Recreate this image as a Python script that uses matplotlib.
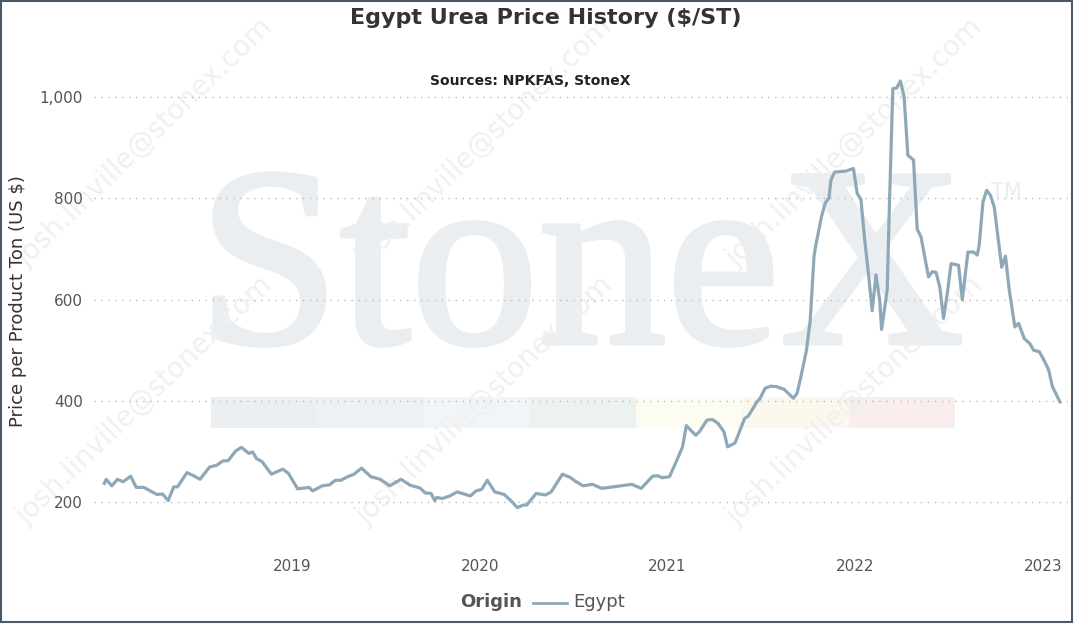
import matplotlib.pyplot as plt
import matplotlib.patheffects as pe
from matplotlib.patches import Rectangle
from matplotlib.lines import Line2D
from matplotlib.ticker import FuncFormatter

# weekly-ish readings, decimal year -> $/ST
dates = [2018.00, 2018.01, 2018.04, 2018.07, 2018.10, 2018.14, 2018.17, 2018.21, 2018.28, 2018.31,
         2018.34, 2018.37, 2018.39, 2018.44, 2018.47, 2018.51, 2018.56, 2018.60, 2018.63, 2018.66,
         2018.70, 2018.73, 2018.77, 2018.79, 2018.81, 2018.84, 2018.89, 2018.95, 2018.98, 2019.03,
         2019.09, 2019.11, 2019.16, 2019.20, 2019.23, 2019.26, 2019.29, 2019.33, 2019.37, 2019.42,
         2019.47, 2019.52, 2019.58, 2019.63, 2019.68, 2019.71, 2019.74, 2019.76, 2019.77, 2019.80,
         2019.84, 2019.88, 2019.95, 2019.98, 2020.01, 2020.04, 2020.08, 2020.13, 2020.17, 2020.20,
         2020.23, 2020.25, 2020.30, 2020.35, 2020.38, 2020.44, 2020.48, 2020.51, 2020.55, 2020.60,
         2020.65, 2020.75, 2020.81, 2020.86, 2020.92, 2020.95, 2020.97, 2021.01, 2021.05, 2021.08,
         2021.10, 2021.15, 2021.17, 2021.21, 2021.24, 2021.27, 2021.30, 2021.32, 2021.36, 2021.41,
         2021.43, 2021.48, 2021.49, 2021.52, 2021.55, 2021.58, 2021.62, 2021.67, 2021.69, 2021.71,
         2021.74, 2021.76, 2021.78, 2021.79, 2021.82, 2021.84, 2021.86, 2021.87, 2021.89, 2021.95,
         2021.99, 2022.01, 2022.03, 2022.05, 2022.07, 2022.09, 2022.11, 2022.13, 2022.14, 2022.17,
         2022.18, 2022.20, 2022.22, 2022.24, 2022.26, 2022.28, 2022.31, 2022.33, 2022.35, 2022.39,
         2022.41, 2022.43, 2022.45, 2022.47, 2022.49, 2022.51, 2022.55, 2022.57, 2022.60, 2022.63,
         2022.65, 2022.66, 2022.68, 2022.70, 2022.72, 2022.74, 2022.78, 2022.80, 2022.82, 2022.85,
         2022.87, 2022.90, 2022.93, 2022.95, 2022.98, 2023.00, 2023.03, 2023.05, 2023.09]
prices = [237, 245, 232, 245, 240, 251, 229, 229, 215, 216,
          203, 230, 230, 258, 253, 245, 269, 273, 281, 282,
          301, 308, 296, 299, 286, 280, 255, 265, 257, 226,
          229, 222, 232, 234, 243, 243, 249, 255, 267, 250,
          245, 232, 245, 233, 228, 218, 217, 203, 209, 207,
          212, 220, 212, 222, 225, 243, 220, 215, 201, 189,
          194, 194, 217, 214, 220, 255, 249, 241, 232, 235,
          227, 232, 235, 227, 251, 252, 248, 250, 283, 309,
          351, 332, 339, 362, 363, 355, 339, 309, 317, 365,
          370, 400, 403, 425, 429, 428, 423, 405, 415, 447,
          500, 559, 685, 708, 764, 791, 801, 836, 852, 854,
          859, 810, 798, 718, 652, 578, 649, 599, 541, 619,
          764, 1017, 1018, 1032, 1001, 885, 876, 739, 724, 645,
          655, 654, 625, 563, 612, 671, 668, 600, 694, 694,
          688, 708, 793, 816, 806, 783, 664, 686, 619, 546,
          553, 523, 513, 500, 497, 484, 461, 428, 398]

year_ticks = [2019, 2020, 2021, 2022, 2023]
price_ticks = [200, 400, 600, 800, 1000]
band_colors = ['#eceff2', '#edf1f3', '#f1f5f8', '#ecf2ef', '#fcfcf3', '#fcf8ee', '#f9eded']

line_color = '#8fa8b7'
text_color = '#555555'
mark_color = '#eaeef1'

fig = plt.figure(figsize=(10.88, 6.27), dpi=100)
ax = fig.add_axes([94 / 1088, 87 / 627, 974 / 1088, 500 / 627])

# StoneX watermark + colour strip
ax.text(0.500, 0.394, 'StoneX', transform=ax.transAxes, ha='center', va='baseline',
        fontsize=184, family='Liberation Serif', color=mark_color, zorder=0,
        path_effects=[pe.withStroke(linewidth=3.5, foreground=mark_color)])
ax.text(0.937, 0.675, 'TM', transform=ax.transAxes, ha='center', va='bottom',
        fontsize=15, family='DejaVu Sans', color=mark_color, zorder=0)
for i, c in enumerate(band_colors):
    ax.add_patch(Rectangle((0.1201 + i * 0.1091, 0.224), 0.1091, 0.062,
                           transform=ax.transAxes, color=c, lw=0, zorder=0.2))

# email watermarks
for cx in [145, 485, 855]:
    for cy in [142, 400]:
        ax.text(cx / 1088, 1 - cy / 627, 'josh.linville@stonex.com', transform=fig.transFigure,
                rotation=44, ha='center', va='center', fontsize=20, color='#f0f0f0',
                clip_on=False, zorder=0.3)

ax.plot(dates, prices, color=line_color, lw=2.3, zorder=3, solid_joinstyle='round')

ax.set_xlim(2017.945, 2023.133)
ax.set_ylim(125, 1113)
ax.set_xticks(year_ticks)
ax.set_xticklabels([str(y) for y in year_ticks])
ax.set_yticks(price_ticks)
ax.yaxis.set_major_formatter(FuncFormatter(lambda v, p: f'{int(v):,}'))
ax.tick_params(length=0, labelsize=11, colors=text_color)
ax.tick_params(axis='x', pad=14)
ax.tick_params(axis='y', pad=8)
ax.grid(axis='y', linestyle=(0, (1, 4)), color='#bbbbbb', lw=1)
for s in ax.spines.values():
    s.set_visible(False)
ax.set_facecolor('none')

fig.text(0.502, 0.971, 'Egypt Urea Price History ($/ST)', ha='center', va='center',
         fontsize=16, fontweight='bold', color='#333333')
fig.text(0.487, 0.871, 'Sources: NPKFAS, StoneX', ha='center', va='center',
         fontsize=10, fontweight='bold', color='#222222')
fig.text(0.0165, 0.52, 'Price per Product Ton (US $)', rotation=90, ha='center', va='center',
         fontsize=13, color='#333333')

# legend
fig.text(522 / 1088, 1 - 602 / 627, 'Origin', ha='right', va='center', fontsize=13,
         fontweight='bold', color='#555555')
fig.add_artist(Line2D([533 / 1088, 567 / 1088], [1 - 603 / 627] * 2, color=line_color, lw=2))
fig.text(573 / 1088, 1 - 602 / 627, 'Egypt', ha='left', va='center', fontsize=13, color='#555555')

# frame
fig.add_artist(Rectangle((1 / 1088, 5 / 627), 1071 / 1088, 621 / 627, transform=fig.transFigure,
                         fill=False, edgecolor='#4a5a68', lw=1.5))

fig.savefig('out.png', dpi=100)
